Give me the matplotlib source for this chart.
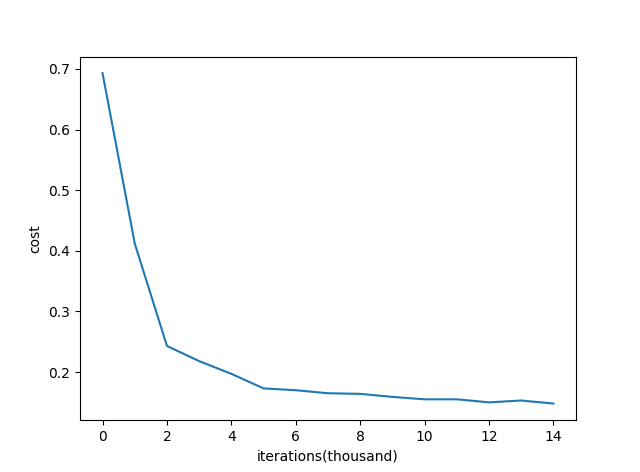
import numpy as np
import matplotlib
matplotlib.use('Agg')
import matplotlib.pyplot as plt

iterations = list(range(15))
costs = [0.693, 0.412, 0.243, 0.218, 0.197, 0.173, 0.170, 0.165, 0.164, 0.159,
         0.155, 0.155, 0.150, 0.153, 0.148]

fig = plt.figure(figsize=(6.4, 4.72), dpi=100)
plt.plot(iterations, costs)
plt.ylabel('cost')
plt.xlabel('iterations(thousand)')
plt.savefig('out.png')
